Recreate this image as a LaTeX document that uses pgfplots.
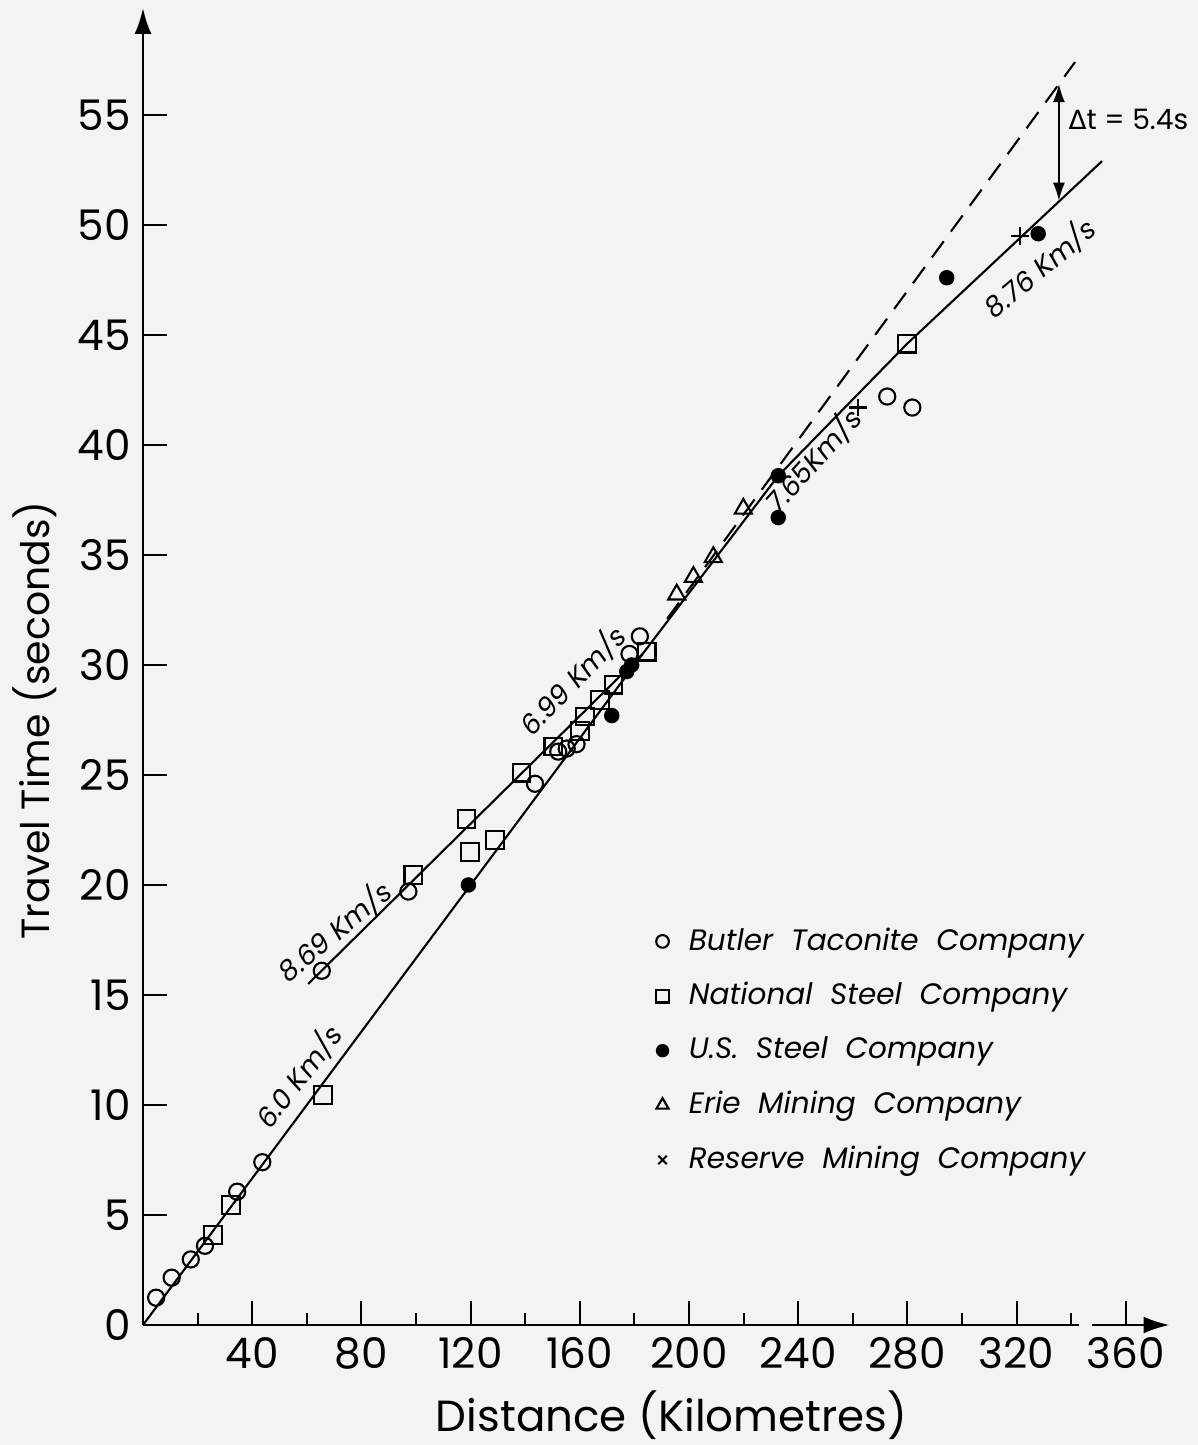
\documentclass[border=0pt]{standalone}
\usepackage{pgfplots}
\pgfplotsset{compat=1.18}
\usetikzlibrary{arrows.meta}
\usepackage{fontspec}
\setmainfont{Poppins}
\newfontfamily\dejavu{DejaVu Sans}
\definecolor{bg}{RGB}{243,243,241}

\begin{document}
\begin{tikzpicture}
\fill[bg] (-14.3mm,-12mm) rectangle (105.5mm,132.5mm);
\useasboundingbox (-14.3mm,-12mm) rectangle (105.5mm,132.5mm);
\begin{axis}[
  scale only axis, width=102.65mm, height=131.7mm,
  xmin=0, xmax=376, ymin=0, ymax=59.86,
  axis lines=left,
  axis line style={line width=0.7pt, -{Latex[length=2.6mm,width=1.7mm]}},
  xtick={40,80,...,360}, minor xtick={20,60,...,340},
  ytick={0,5,...,55},
  tick align=inside,
  major tick length=2.4mm, minor tick length=1.2mm,
  tick style={line width=0.6pt, black},
  /pgf/number format/assume math mode=true,
  ticklabel style={font=\fontsize{12}{14}\selectfont},
  xlabel={Distance (Kilometres)}, ylabel={Travel Time (seconds)},
  xlabel style={font=\fontsize{12.4}{14}\selectfont, at={(axis description cs:0.515,-0.0685)}, anchor=center},
  ylabel style={font=\fontsize{11.2}{14}\selectfont, at={(axis description cs:-0.105,0.459)}, anchor=center},
  clip=false,
  legend image code/.code={\draw[#1] plot coordinates {(0cm,0cm)};},
  legend style={at={(axis description cs:0.489,0.313)}, anchor=north west,
    draw=none, fill=none, font=\itshape\fontsize{8.4}{10}\selectfont,
    row sep=1.3mm, /tikz/every odd column/.style={column sep=1.3mm}},
  legend cell align=left,
]
% fitted lines
\addplot[black, line width=0.6pt, forget plot] coordinates {(0,0) (183,30.5) (232.7,38.6) (279.9,44.6) (351.3,52.9)};
\addplot[black, line width=0.6pt, forget plot] coordinates {(60.5,15.5) (183,30.5)};
\addplot[black, line width=0.6pt, dash pattern=on 2mm off 1.2mm, forget plot] coordinates {(192,32.1) (341.4,57.4)};

\addplot[only marks, mark=o, mark size=2.3pt, mark options={line width=0.6pt, fill=bg}, legend image post style={mark size=1.8pt}] coordinates {
(4.8,1.24) (10.5,2.15) (17.5,2.98) (22.7,3.6) (34.5,6.06) (43.7,7.4)
(65.5,16.1) (97.2,19.7) (143.6,24.6) (152.1,26.06) (155.2,26.2) (158.8,26.4)
(178.2,30.5) (182,31.3) (272.6,42.2) (281.8,41.7)};
\addlegendentry{Butler\ \ Taconite\ \ Company}

\addplot[only marks, mark=square, mark size=2.5pt, mark options={line width=0.6pt, fill=bg}, legend image post style={mark size=1.8pt}] coordinates {
(25.7,4.1) (32.2,5.45) (66,10.45) (99,20.45) (119.8,21.5) (118.5,23.0)
(128.9,22.05) (138.7,25.1) (150.3,26.3) (160,27.0) (161.9,27.65) (167.4,28.4)
(172.3,29.1) (184.5,30.6) (279.9,44.6)};
\addlegendentry{National\ \ Steel\ \ Company}

\addplot[only marks, mark=*, mark size=2pt, mark options={black}, legend image post style={mark size=1.7pt}] coordinates {
(119.2,20.0) (171.7,27.7) (177.2,29.7) (179,30.0) (232.7,38.6) (232.7,36.7)
(294.4,47.6) (327.9,49.6)};
\addlegendentry{U.S.\ \ Steel\ \ Company}

\addplot[only marks, mark=triangle, mark size=2.8pt, mark options={line width=0.6pt, fill=bg}, legend image post style={mark size=2pt}] coordinates {
(195.5,33.2) (201.6,34.0) (208.9,34.9) (219.9,37.1)};
\addlegendentry{Erie\ \ Mining\ \ Company}

\addplot[only marks, mark=+, mark size=2.5pt, mark options={line width=0.6pt}, legend image post style={mark=x, mark size=1.7pt}] coordinates {
(262,41.7) (321.2,49.5)};
\addlegendentry{Reserve\ \ Mining\ \ Company}

% annotations
\node[font=\itshape\fontsize{7.8}{10}\selectfont, rotate=52] at (axis cs:57.1,11.3) {6.0 Km/s};
\node[font=\itshape\fontsize{7.8}{10}\selectfont, rotate=40] at (axis cs:70.3,17.9) {8.69 Km/s};
\node[font=\itshape\fontsize{7.8}{10}\selectfont, rotate=46] at (axis cs:157.5,29.3) {6.99 Km/s};
\node[font=\itshape\fontsize{7.8}{10}\selectfont, rotate=48] at (axis cs:245.5,39.3) {7.65Km/s};
\node[font=\itshape\fontsize{7.8}{10}\selectfont, rotate=40] at (axis cs:328.6,48.05) {8.76 Km/s};
\draw[line width=0.5pt, {Latex[length=1.8mm,width=1.2mm]}-{Latex[length=1.8mm,width=1.2mm]}] (axis cs:335.5,56.4) -- (axis cs:335.5,51.1);
\node[anchor=west, inner sep=0pt, font=\fontsize{8}{10}\selectfont] at (axis cs:338.8,54.8) {{\dejavu\fontsize{7.5}{10}\selectfont Δ}t = 5.4s};
% small break in the x axis
\fill[bg] (axis cs:343,-0.3) rectangle (axis cs:347.5,0.3);
\end{axis}
\end{tikzpicture}
\end{document}
